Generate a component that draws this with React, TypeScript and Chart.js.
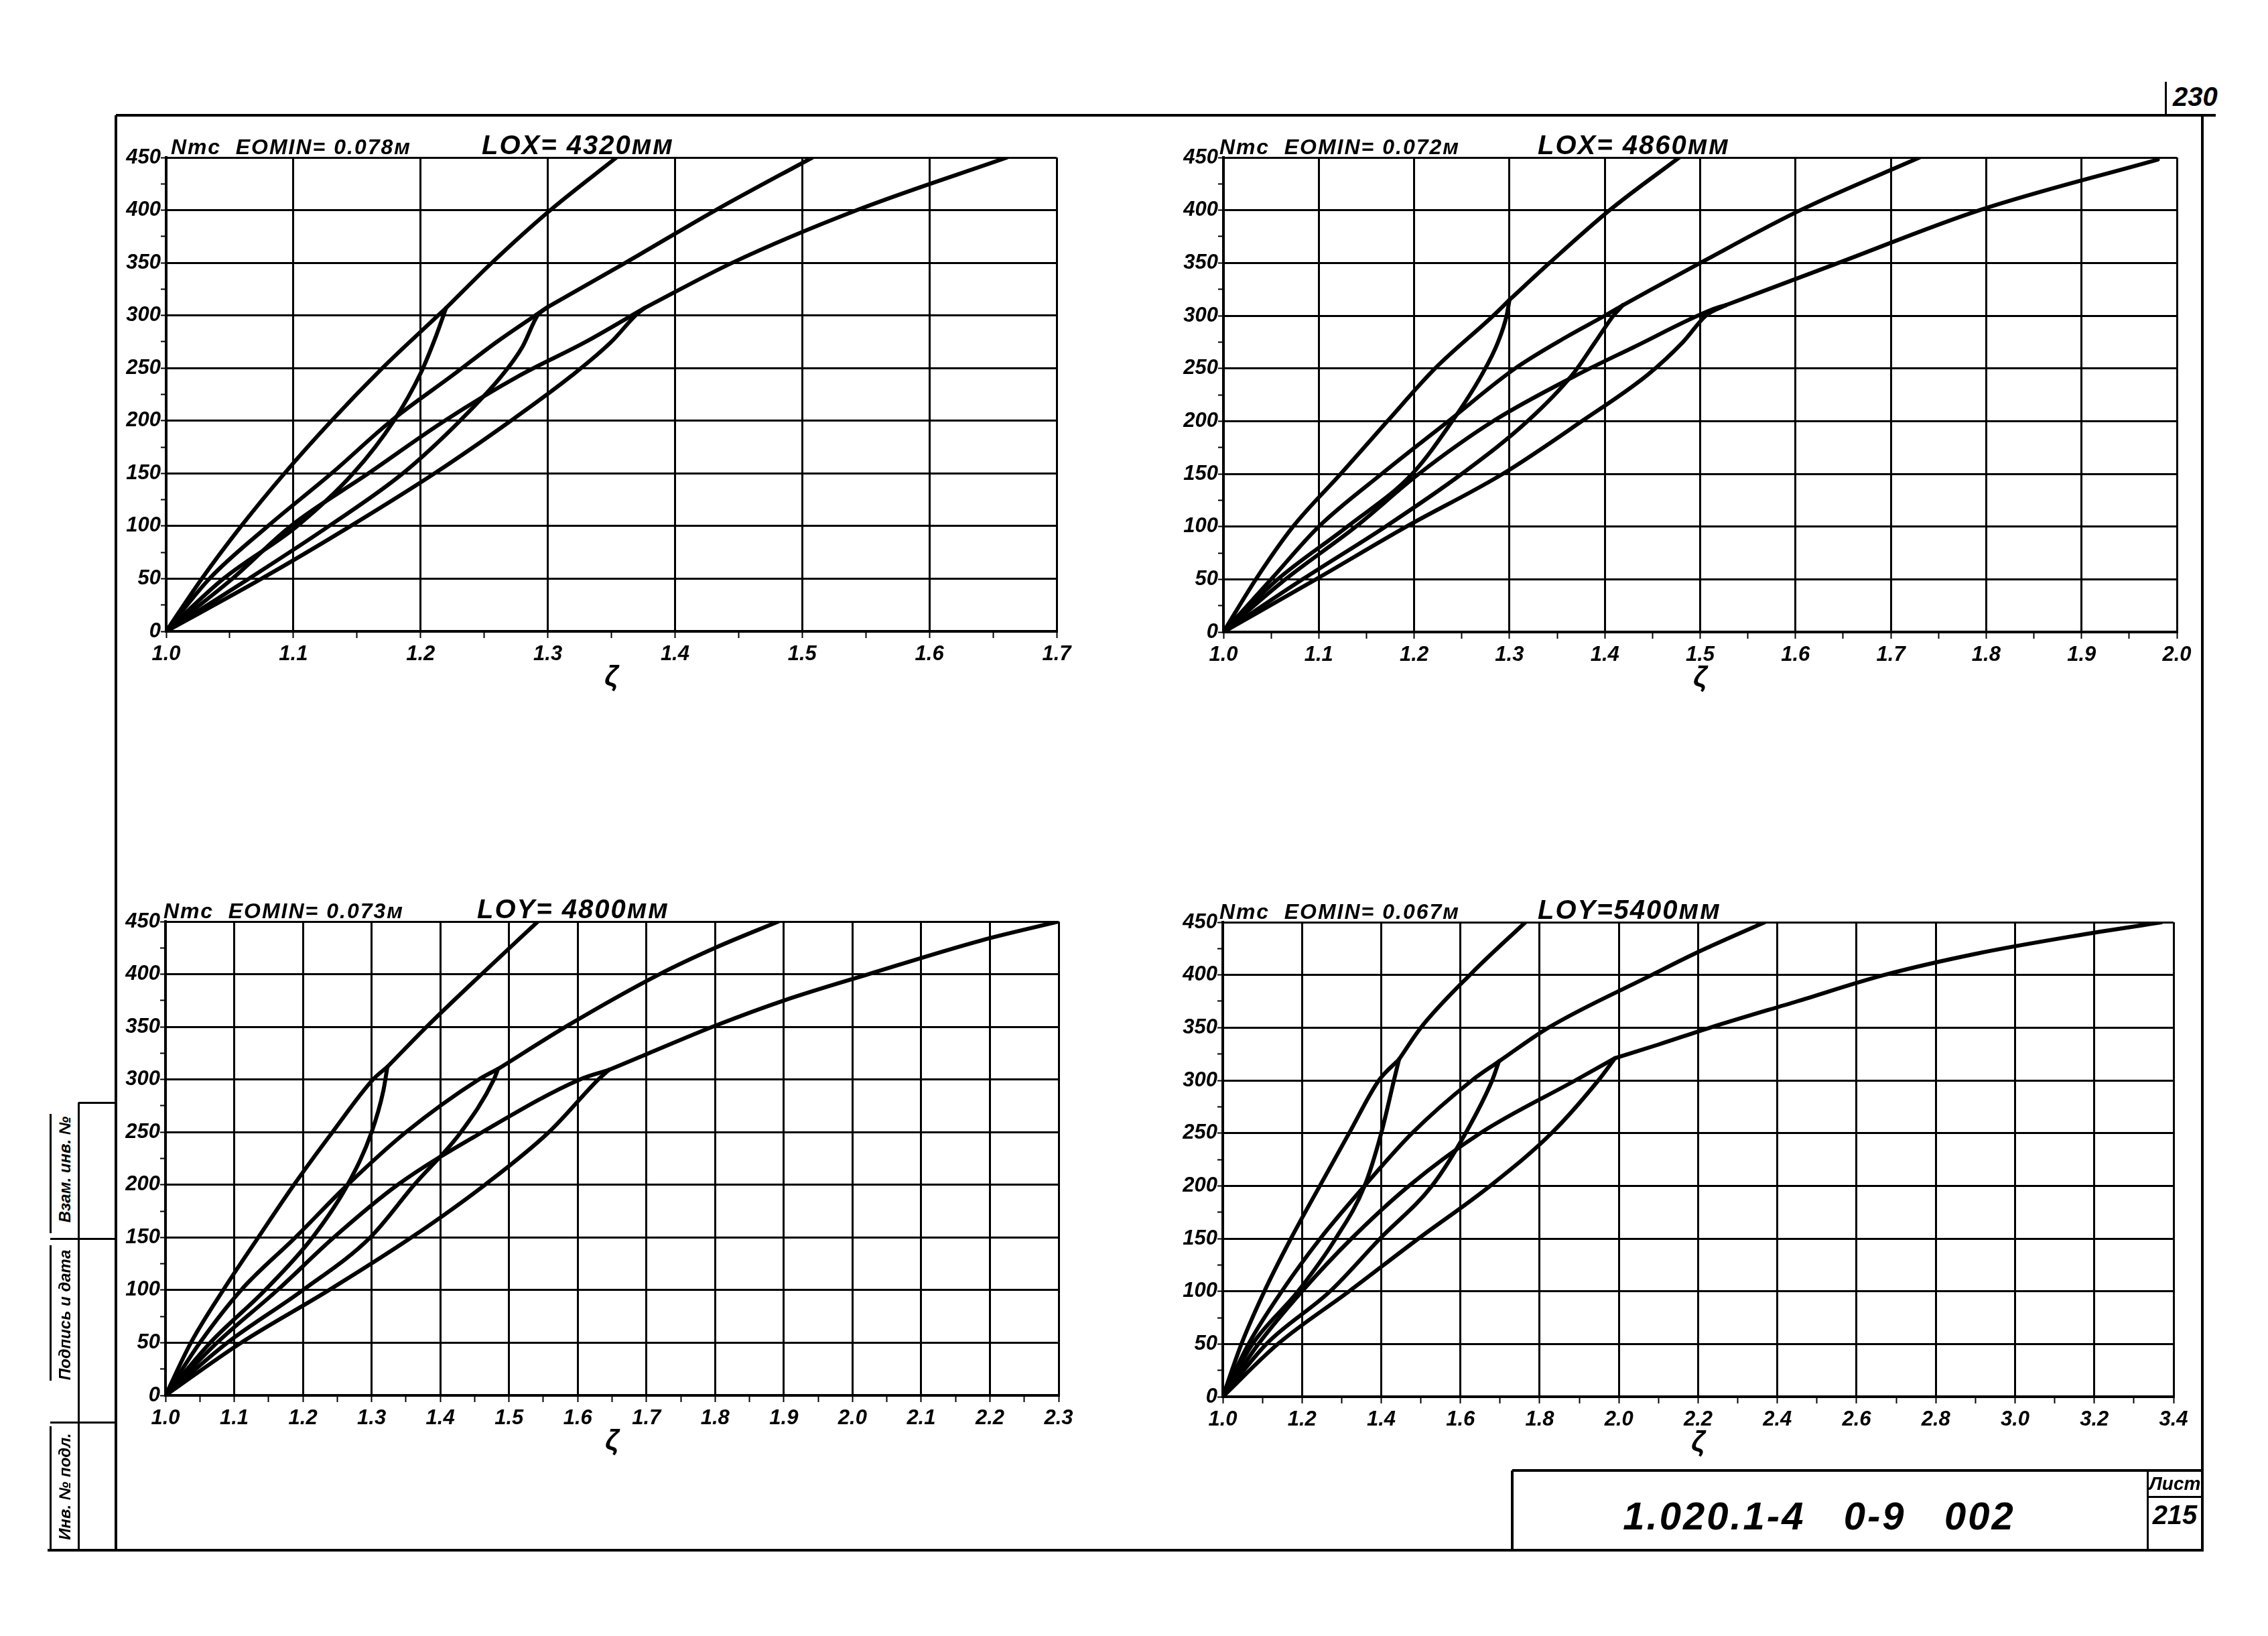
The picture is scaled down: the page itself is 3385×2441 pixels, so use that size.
import React, { useEffect, useRef } from "react";
import { Chart, registerables } from "chart.js";

Chart.register(...registerables);

type Pt = [number, number];

// ---------- tick labels ----------
const Y_LABELS = ["0", "50", "100", "150", "200", "250", "300", "350", "400", "450"];
const X1_LABELS = ["1.0", "1.1", "1.2", "1.3", "1.4", "1.5", "1.6", "1.7"];
const X2_LABELS = ["1.0", "1.1", "1.2", "1.3", "1.4", "1.5", "1.6", "1.7", "1.8", "1.9", "2.0"];
const X3_LABELS = ["1.0", "1.1", "1.2", "1.3", "1.4", "1.5", "1.6", "1.7", "1.8", "1.9", "2.0", "2.1", "2.2", "2.3"];
const X4_LABELS = ["1.0", "1.2", "1.4", "1.6", "1.8", "2.0", "2.2", "2.4", "2.6", "2.8", "3.0", "3.2", "3.4"];

// ---------- chart 1 : LOX = 4320 ----------
const c1_1a: Pt[] = [[1, 0], [1.028, 50], [1.059, 100], [1.093, 150], [1.13, 200], [1.17, 250], [1.196, 280], [1.22, 307]];
const c1_1b: Pt[] = [[1, 0], [1.045, 50], [1.103, 100], [1.147, 150], [1.179, 200], [1.2, 245], [1.212, 280], [1.22, 307]];
const c1_1c: Pt[] = [[1.22, 307], [1.256, 350], [1.3, 398], [1.354, 450]];
const c1_2a: Pt[] = [[1, 0], [1.034, 50], [1.08, 100], [1.13, 150], [1.177, 200], [1.225, 243], [1.26, 275], [1.3, 308]];
const c1_2b: Pt[] = [[1, 0], [1.065, 50], [1.128, 100], [1.186, 150], [1.231, 200], [1.264, 243], [1.28, 270], [1.292, 300], [1.3, 308]];
const c1_2c: Pt[] = [[1.3, 308], [1.361, 350], [1.432, 400], [1.508, 450]];
const c1_3a: Pt[] = [[1, 0], [1.052, 50], [1.098, 100], [1.159, 150], [1.219, 200], [1.278, 243], [1.33, 275], [1.376, 307]];
const c1_3b: Pt[] = [[1, 0], [1.075, 50], [1.145, 100], [1.211, 150], [1.271, 200], [1.319, 243], [1.35, 275], [1.369, 300], [1.376, 307]];
const c1_3c: Pt[] = [[1.376, 307], [1.445, 350], [1.543, 400], [1.661, 450]];

// ---------- chart 2 : LOX = 4860 ----------
const c2_1a: Pt[] = [[1, 0], [1.034, 50], [1.073, 100], [1.123, 150], [1.172, 200], [1.222, 250], [1.283, 300], [1.3, 315]];
const c2_1b: Pt[] = [[1, 0], [1.057, 50], [1.13, 100], [1.198, 150], [1.24, 200], [1.271, 244], [1.288, 275], [1.297, 300], [1.3, 315]];
const c2_1c: Pt[] = [[1.3, 315], [1.342, 350], [1.405, 400], [1.478, 450]];
const c2_2a: Pt[] = [[1, 0], [1.05, 50], [1.1, 100], [1.166, 150], [1.236, 200], [1.306, 250], [1.36, 280], [1.4, 300], [1.419, 310]];
const c2_2b: Pt[] = [[1, 0], [1.083, 50], [1.17, 100], [1.25, 150], [1.319, 200], [1.366, 244], [1.39, 275], [1.409, 300], [1.419, 310]];
const c2_2c: Pt[] = [[1.419, 310], [1.5, 350], [1.605, 400], [1.73, 450]];
const c2_3a: Pt[] = [[1, 0], [1.065, 50], [1.139, 100], [1.205, 150], [1.283, 200], [1.367, 242], [1.43, 270], [1.513, 306], [1.527, 310]];
const c2_3b: Pt[] = [[1, 0], [1.097, 50], [1.192, 100], [1.293, 150], [1.376, 200], [1.445, 244], [1.482, 275], [1.506, 300], [1.527, 310]];
const c2_3c: Pt[] = [[1.527, 310], [1.642, 349], [1.793, 400], [1.98, 448]];

// ---------- chart 3 : LOY = 4800 ----------
const c3_1a: Pt[] = [[1, 0], [1.037, 50], [1.084, 100], [1.135, 150], [1.187, 200], [1.243, 250], [1.302, 300], [1.323, 312]];
const c3_1b: Pt[] = [[1, 0], [1.065, 50], [1.145, 100], [1.214, 150], [1.265, 200], [1.3, 250], [1.317, 289], [1.323, 312]];
const c3_1c: Pt[] = [[1.323, 312], [1.38, 350], [1.46, 400], [1.542, 450]];
const c3_2a: Pt[] = [[1, 0], [1.05, 50], [1.11, 100], [1.189, 150], [1.265, 200], [1.35, 250], [1.456, 300], [1.484, 310]];
const c3_2b: Pt[] = [[1, 0], [1.09, 50], [1.2, 100], [1.298, 150], [1.362, 200], [1.43, 250], [1.478, 300], [1.484, 310]];
const c3_2c: Pt[] = [[1.484, 310], [1.59, 353], [1.719, 400], [1.8, 425], [1.892, 450]];
const c3_3a: Pt[] = [[1, 0], [1.075, 50], [1.163, 100], [1.245, 150], [1.338, 200], [1.461, 250], [1.603, 300], [1.645, 309]];
const c3_3b: Pt[] = [[1, 0], [1.11, 50], [1.238, 100], [1.358, 150], [1.465, 200], [1.558, 250], [1.63, 300], [1.645, 309]];
const c3_3c: Pt[] = [[1.645, 309], [1.7, 324], [1.8, 351], [1.9, 375], [2.023, 400], [2.187, 432], [2.3, 450]];

// ---------- chart 4 : LOY = 5400 ----------
const c4_1a: Pt[] = [[1, 0], [1.047, 50], [1.105, 100], [1.172, 150], [1.245, 200], [1.319, 250], [1.394, 300], [1.445, 320]];
const c4_1b: Pt[] = [[1, 0], [1.075, 50], [1.19, 100], [1.285, 150], [1.358, 200], [1.4, 250], [1.432, 300], [1.445, 320]];
const c4_1c: Pt[] = [[1.445, 320], [1.5, 350], [1.629, 402], [1.764, 450]];
const c4_2a: Pt[] = [[1, 0], [1.065, 50], [1.149, 100], [1.246, 150], [1.358, 200], [1.478, 250], [1.629, 300], [1.697, 318]];
const c4_2b: Pt[] = [[1, 0], [1.11, 50], [1.271, 100], [1.397, 150], [1.528, 200], [1.613, 250], [1.68, 300], [1.697, 318]];
const c4_2c: Pt[] = [[1.697, 318], [1.822, 350], [2.083, 400], [2.19, 420], [2.368, 450]];
const c4_3a: Pt[] = [[1, 0], [1.09, 50], [1.2, 100], [1.325, 150], [1.47, 200], [1.65, 250], [1.89, 300], [1.99, 321]];
const c4_3b: Pt[] = [[1, 0], [1.139, 50], [1.319, 100], [1.494, 150], [1.675, 200], [1.83, 250], [1.948, 300], [1.99, 321]];
const c4_3c: Pt[] = [[1.99, 321], [2.1, 334], [2.23, 350], [2.45, 375], [2.67, 400], [2.9, 420], [3.15, 437], [3.37, 450]];

const FONT = "'Liberation Sans', Arial, 'DejaVu Sans', sans-serif";

const PL = 110;
const PT = 40;
const PR = 60;
const PB = 140;

interface PanelSpec {
  l: number; t: number; r: number; b: number;
  xMin: number; xMax: number; xMinor: number;
  xLabels: string[];
  series: Pt[][];
}

function findLabel(labels: string[], v: any): string | null {
  if (typeof v !== "number") return null;
  for (const s of labels) {
    if (Math.abs(parseFloat(s) - v) < 1e-6) return s;
  }
  return null;
}

function Panel({ spec }: { spec: PanelSpec }) {
  const ref = useRef<HTMLCanvasElement>(null);
  const w = spec.r - spec.l + PL + PR;
  const h = spec.b - spec.t + PT + PB;
  useEffect(() => {
    const cvs = ref.current;
    if (!cvs) return;
    const tickFont = { family: FONT, size: 31, style: "italic" as const, weight: "bold" as const };
    const chart = new Chart(cvs, {
      type: "line",
      data: {
        datasets: spec.series.map((s) => ({
          data: s.map(([x, y]) => ({ x, y })),
          borderColor: "#000",
          borderWidth: 6,
          pointRadius: 0,
          cubicInterpolationMode: "monotone" as const,
          fill: false,
          borderCapStyle: "round" as const,
          borderJoinStyle: "round" as const,
        })),
      },
      options: {
        responsive: false,
        animation: false,
        devicePixelRatio: 1,
        layout: { padding: { top: PT, right: PR, left: 0, bottom: 0 } },
        plugins: { legend: { display: false }, tooltip: { enabled: false }, title: { display: false } },
        scales: {
          x: {
            type: "linear",
            min: spec.xMin,
            max: spec.xMax,
            afterFit: (s: any) => { s.height = PB; },
            ticks: {
              stepSize: spec.xMinor,
              autoSkip: false,
              maxRotation: 0,
              minRotation: 0,
              padding: 6,
              color: "#000",
              font: tickFont,
              callback: (v: any) => findLabel(spec.xLabels, v) ?? "",
            },
            grid: {
              color: (c: any) => (findLabel(spec.xLabels, c.tick?.value) !== null ? "#000" : "rgba(0,0,0,0)"),
              lineWidth: 3,
              tickColor: "#000",
              tickLength: 10,
              tickWidth: 2,
            },
            border: { display: true, color: "#000", width: 4 },
            title: {
              display: true,
              text: "ζ",
              color: "#000",
              font: { family: FONT, size: 42, style: "italic", weight: "bold" },
              padding: { top: 0, bottom: 45 },
            },
          },
          y: {
            type: "linear",
            min: 0,
            max: 450,
            afterFit: (s: any) => { s.width = PL; },
            ticks: {
              stepSize: 25,
              autoSkip: false,
              padding: 0,
              color: "#000",
              font: tickFont,
              callback: (v: any) => findLabel(Y_LABELS, v) ?? "",
            },
            grid: {
              color: (c: any) => (findLabel(Y_LABELS, c.tick?.value) !== null ? "#000" : "rgba(0,0,0,0)"),
              lineWidth: 3,
              tickColor: "#000",
              tickLength: 8,
              tickWidth: 2,
            },
            border: { display: true, color: "#000", width: 4 },
          },
        },
      },
    } as any);
    return () => chart.destroy();
  }, [spec]);
  return (
    <canvas
      ref={ref}
      width={w}
      height={h}
      style={{ position: "absolute", left: spec.l - PL, top: spec.t - PT, width: w, height: h }}
    />
  );
}

const PANELS: PanelSpec[] = [
  { l: 248, t: 235, r: 1577, b: 942, xMin: 1, xMax: 1.7, xMinor: 0.05, xLabels: X1_LABELS,
    series: [c1_1a, c1_1b, c1_1c, c1_2a, c1_2b, c1_2c, c1_3a, c1_3b, c1_3c] },
  { l: 1826, t: 235, r: 3249, b: 943, xMin: 1, xMax: 2.0, xMinor: 0.05, xLabels: X2_LABELS,
    series: [c2_1a, c2_1b, c2_1c, c2_2a, c2_2b, c2_2c, c2_3a, c2_3b, c2_3c] },
  { l: 247, t: 1375, r: 1580, b: 2082, xMin: 1, xMax: 2.3, xMinor: 0.05, xLabels: X3_LABELS,
    series: [c3_1a, c3_1b, c3_1c, c3_2a, c3_2b, c3_2c, c3_3a, c3_3b, c3_3c] },
  { l: 1825, t: 1376, r: 3244, b: 2084, xMin: 1, xMax: 3.4, xMinor: 0.1, xLabels: X4_LABELS,
    series: [c4_1a, c4_1b, c4_1c, c4_2a, c4_2b, c4_2c, c4_3a, c4_3b, c4_3c] },
];

const HEADERS = [
  { left: "Nтс  EOMIN= 0.078м", right: "LOX= 4320мм", lx: 255, rx: 719, top: 235 },
  { left: "Nтс  EOMIN= 0.072м", right: "LOX= 4860мм", lx: 1820, rx: 2295, top: 235 },
  { left: "Nтс  EOMIN= 0.073м", right: "LOY= 4800мм", lx: 244, rx: 712, top: 1375 },
  { left: "Nтс  EOMIN= 0.067м", right: "LOY=5400мм", lx: 1820, rx: 2295, top: 1376 },
];

function Line({ x1, y1, x2, y2, w = 4 }: { x1: number; y1: number; x2: number; y2: number; w?: number }) {
  const horiz = y1 === y2;
  return (
    <div
      style={{
        position: "absolute",
        left: horiz ? x1 : x1 - w / 2,
        top: horiz ? y1 - w / 2 : y1,
        width: horiz ? x2 - x1 : w,
        height: horiz ? w : y2 - y1,
        background: "#000",
      }}
    />
  );
}

const textBase: React.CSSProperties = {
  position: "absolute",
  fontFamily: FONT,
  fontStyle: "italic",
  fontWeight: "bold",
  color: "#000",
  lineHeight: 1,
  whiteSpace: "pre",
};

function VText({ cx, cy, text, size }: { cx: number; cy: number; text: string; size: number }) {
  return (
    <div
      style={{
        ...textBase,
        left: cx,
        top: cy,
        fontSize: size,
        transform: "translate(-50%, -50%) rotate(-90deg)",
      }}
    >
      {text}
    </div>
  );
}

export default function App() {
  return (
    <div style={{ position: "absolute", left: 0, top: 0, width: 3385, height: 2441, background: "#fff", overflow: "hidden" }}>
      {PANELS.map((p, i) => (
        <Panel key={i} spec={p} />
      ))}
      {HEADERS.map((h, i) => (
        <React.Fragment key={"h" + i}>
          <div style={{ ...textBase, left: h.lx, top: h.top - 3 - 29, fontSize: 32, letterSpacing: 2 }}>{h.left}</div>
          <div style={{ ...textBase, left: h.rx, top: h.top - 3 - 36, fontSize: 40, letterSpacing: 2 }}>{h.right}</div>
        </React.Fragment>
      ))}

      {/* outer frame */}
      <Line x1={173} y1={172} x2={3307} y2={172} />
      <Line x1={173} y1={172} x2={173} y2={2314} />
      <Line x1={3287} y1={172} x2={3287} y2={2314} />
      <Line x1={71} y1={2313} x2={3289} y2={2313} />
      <Line x1={3232} y1={122} x2={3232} y2={174} w={3} />
      <div style={{ ...textBase, left: 3243, top: 124, fontSize: 40 }}>230</div>

      {/* left stamp */}
      <Line x1={117} y1={1645} x2={117} y2={2313} w={3} />
      <Line x1={117} y1={1645} x2={173} y2={1645} w={3} />
      <Line x1={75} y1={1848} x2={173} y2={1848} w={3} />
      <Line x1={75} y1={2122} x2={173} y2={2122} w={3} />
      <Line x1={75} y1={1662} x2={75} y2={1840} w={3} />
      <Line x1={75} y1={1858} x2={75} y2={2060} w={3} />
      <Line x1={75} y1={2128} x2={75} y2={2313} w={3} />
      <VText cx={97} cy={1745} text="Взам. инв. №" size={24} />
      <VText cx={97} cy={1962} text="Подпись и дата" size={24} />
      <VText cx={97} cy={2218} text="Инв. № подл." size={24} />

      {/* title block */}
      <Line x1={2257} y1={2194} x2={3287} y2={2194} />
      <Line x1={2257} y1={2194} x2={2257} y2={2313} />
      <Line x1={3205} y1={2194} x2={3205} y2={2313} w={3} />
      <Line x1={3205} y1={2233} x2={3287} y2={2233} w={3} />
      <div style={{ ...textBase, left: 2715, top: 2262, fontSize: 58, letterSpacing: 3, transform: "translate(-50%, -50%)" }}>
        {"1.020.1-4   0-9   002"}
      </div>
      <div style={{ ...textBase, left: 3246, top: 2214, fontSize: 28, transform: "translate(-50%, -50%)" }}>Лист</div>
      <div style={{ ...textBase, left: 3246, top: 2260, fontSize: 40, transform: "translate(-50%, -50%)" }}>215</div>
    </div>
  );
}
